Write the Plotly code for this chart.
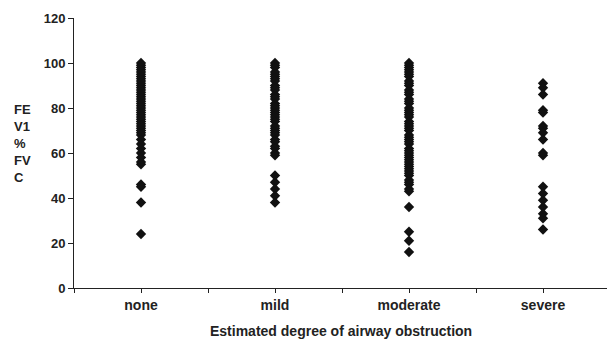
import plotly.graph_objects as go

categories = ["none", "mild", "moderate", "severe"]

none_vals = [100, 99, 98, 97, 96, 95, 94, 93, 92, 91, 90, 89, 88, 87, 86, 85, 84, 83,
             82, 81, 80, 79, 78, 77, 76, 75, 74, 73, 72, 71, 70, 69, 68, 66, 64, 62,
             60, 58, 56, 55, 46, 45, 38, 24]
mild_vals = [100, 99, 98, 96, 95, 94, 93, 92, 90, 89, 88, 86, 85, 84, 82, 81, 80, 79,
             78, 77, 76, 75, 74, 72, 71, 70, 69, 68, 66, 65, 63, 62, 60, 59, 50, 47,
             44, 41, 38]
moderate_vals = [100, 99, 98, 97, 96, 95, 94, 92, 91, 90, 88, 87, 86, 84, 83, 82, 80,
                 79, 78, 77, 76, 74, 73, 72, 71, 70, 68, 67, 66, 65, 64, 62, 61, 60,
                 59, 58, 57, 56, 55, 54, 53, 52, 51, 50, 48, 47, 46, 44, 43, 36, 25,
                 21, 16]
severe_vals = [91, 89, 86, 79, 78, 72, 71, 69, 66, 60, 59, 45, 42, 39, 36, 33, 31, 26]

series = [none_vals, mild_vals, moderate_vals, severe_vals]

y_ticks = [0, 20, 40, 60, 80, 100, 120]
x_title = "Estimated degree of airway obstruction"
y_title = "FE<br>V1<br>%<br>FV<br>C"

xs, ys = [], []
for i, vals in enumerate(series):
    xs += [i + 1] * len(vals)
    ys += vals

fig = go.Figure()
fig.add_trace(go.Scatter(
    x=xs, y=ys, mode="markers",
    marker=dict(symbol="diamond", size=8, color="#111111", line=dict(width=0)),
    showlegend=False, cliponaxis=False,
))

font = dict(family="Liberation Sans, Arial, sans-serif", size=13, color="#222222")

tickvals = [0.5 + 0.5 * k for k in range(9)]
ticktext = []
for v in tickvals:
    if abs(v - round(v)) < 1e-9:
        ticktext.append("<b>" + categories[int(round(v)) - 1] + "</b>")
    else:
        ticktext.append("")

L, T, B = 74, 18, 56
W, H = 607, 344
plot_w = W - L
plot_h = H - T - B

fig.update_layout(
    width=W, height=H,
    margin=dict(l=L, r=0, t=T, b=B, pad=0),
    paper_bgcolor="white", plot_bgcolor="white",
    font=font,
    xaxis=dict(
        range=[0.5, 0.5 + plot_w / 134.0],
        tickvals=tickvals, ticktext=ticktext,
        ticks="outside", ticklen=4, tickwidth=1, tickcolor="#222",
        showline=True, linecolor="#222", linewidth=1,
        showgrid=False, zeroline=False,
        tickfont=dict(size=14),
    ),
    yaxis=dict(
        range=[0, 120],
        tickvals=y_ticks, ticktext=["<b>%d</b>" % v for v in y_ticks],
        ticks="outside", ticklen=5, tickwidth=1, tickcolor="#222",
        showline=True, linecolor="#222", linewidth=1,
        showgrid=False, zeroline=False,
        tickfont=dict(size=13),
    ),
    annotations=[
        dict(text="<b>" + x_title + "</b>", xref="paper", yref="paper",
             x=0.5, y=-(331 - 288) / plot_h, xanchor="center", yanchor="middle",
             showarrow=False, font=dict(size=14)),
        dict(text="<b>" + y_title + "</b>", xref="paper", yref="paper",
             x=-(L - 12) / plot_w, y=(288 - 143) / plot_h, xanchor="left",
             yanchor="middle", align="left", showarrow=False, font=dict(size=13)),
    ],
)

fig.write_html("out.html",
               config={"displayModeBar": False},
               post_script="document.body.style.margin='0';document.body.style.overflow='hidden';")
